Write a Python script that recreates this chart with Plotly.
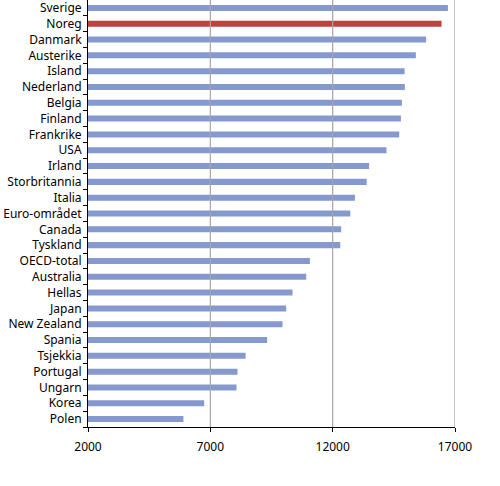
import plotly.graph_objects as go

# Land, frå høgste til lågaste verdi
countries = ["Sverige", "Noreg", "Danmark", "Austerike", "Island", "Nederland",
             "Belgia", "Finland", "Frankrike", "USA", "Irland", "Storbritannia",
             "Italia", "Euro-området", "Canada", "Tyskland", "OECD-total",
             "Australia", "Hellas", "Japan", "New Zealand", "Spania", "Tsjekkia",
             "Portugal", "Ungarn", "Korea", "Polen"]
values = [16710, 16450, 15820, 15400, 14940, 14950, 14830, 14790, 14720, 14200,
          13490, 13390, 12910, 12720, 12350, 12310, 11070, 10920, 10360, 10100,
          9950, 9320, 8440, 8110, 8070, 6750, 5900]
highlight = "Noreg"
xticks = [2000, 7000, 12000, 17000]

blue = "#8599CE"
red = "#C0403E"
colors = [red if c == highlight else blue for c in countries]

fig = go.Figure(go.Bar(
    y=countries, x=values, orientation="h",
    marker=dict(color=colors, line=dict(width=0)),
    width=0.38,
))

# gridlines drawn above the bars, like the original
for v in xticks[1:]:
    fig.add_shape(type="line", xref="x", yref="paper", x0=v, x1=v, y0=0, y1=1,
                  line=dict(color="#A6A6A6", width=1.2), layer="above")

fig.update_layout(
    width=500, height=486,
    margin=dict(l=88, r=45, t=0, b=59),
    paper_bgcolor="white", plot_bgcolor="white",
    font=dict(family="Noto Sans", size=12, color="black"),
    showlegend=False,
)
fig.update_xaxes(
    range=[2000, 17000], tickvals=xticks, ticktext=[str(v) for v in xticks],
    showgrid=False, zeroline=False, automargin=False,
    showline=True, linecolor="black", linewidth=1,
    ticks="outside", ticklen=4, tickcolor="black", ticklabelstandoff=5,
)
fig.update_yaxes(
    categoryorder="array", categoryarray=countries[::-1],
    tickmode="array", tickvals=countries, ticktext=countries,
    range=[-0.5, len(countries) - 0.5], automargin=False,
    showline=True, linecolor="black", linewidth=1,
    ticks="outside", ticklen=4, tickcolor="black", tickson="boundaries",
    showgrid=False, ticklabelstandoff=3,
)

fig.write_html("out.html", config={"displayModeBar": False},
               post_script="document.body.style.margin='0';")
